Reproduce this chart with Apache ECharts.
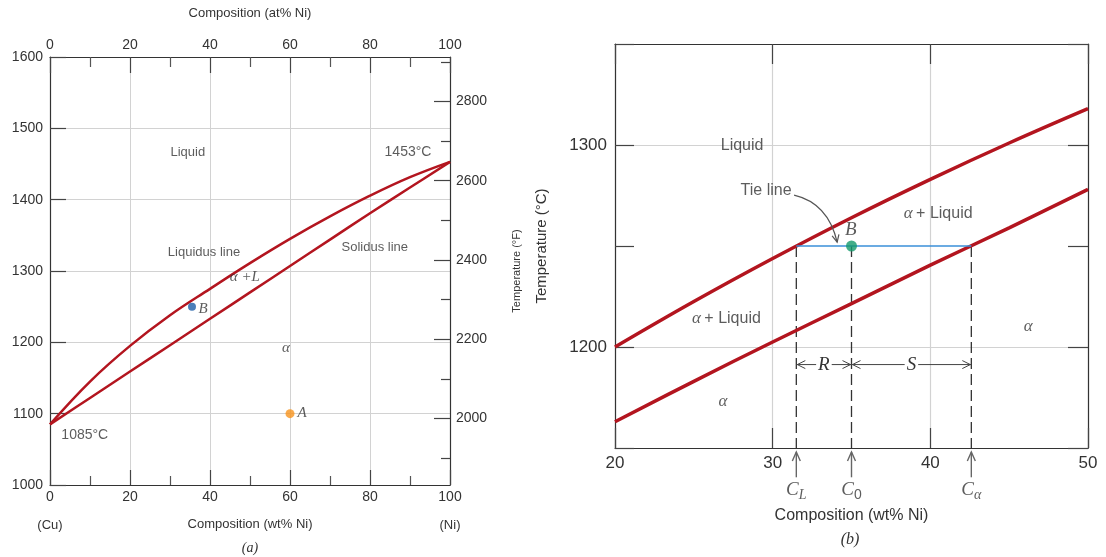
<!DOCTYPE html>
<html>
<head>
<meta charset="utf-8">
<script src="https://cdn.jsdelivr.net/npm/echarts@6.0.0/dist/echarts.min.js"></script>
<style>
html, body { margin: 0; padding: 0; background: #fff; }
#chart { width: 1106px; height: 557px; }
</style>
</head>
<body>
<div id="chart"></div>
<script>
// ---- panel (a): whole Cu-Ni diagram ----
var liquidusA = [[0,1085],[10,1145],[20,1195],[30,1238],[40,1275],[50,1311],[60,1345],[70,1376.5],[80,1405.5],[90,1431.5],[100,1453]];
var solidusA = [[0,1085],[10,1122],[20,1159],[30,1196],[40,1233],[50,1270],[60,1307],[70,1344],[80,1381],[90,1417],[100,1453]];
var pointA = [60, 1100];
var pointBa = [35.5, 1250];
var fMajor = [2000, 2200, 2400, 2600, 2800];
var fMinor = [1900, 2100, 2300, 2500, 2700, 2900];
var labelsA = [
	[34.45, 1466, '{s|Liquid}'],
	[89.5, 1466, '{t|1453°C}'],
	[38.5, 1326.5, '{s|Liquidus line}'],
	[81.2, 1333.5, '{s|Solidus line}'],
	[48.7, 1292, '{g|α +L}'],
	[59, 1191.6, '{g|α}'],
	[38.3, 1246.6, '{g|B}'],
	[63, 1100.9, '{g|A}'],
	[8.7, 1069.8, '{t|1085°C}']
];

// ---- panel (b): zoom around the tie line at 1250 C ----
var liquidusB = [[20,1200],[25,1222.5],[30,1243.8],[35,1264],[40,1283],[45,1301],[50,1318]];
var solidusB = [[20,1163],[25,1183],[30,1202.5],[35,1221.5],[40,1240.5],[45,1259],[50,1278]];
var tieT = 1250;
var cL = 31.5, c0 = 35, cAlpha = 42.6;
var tieLine = [[cL, tieT], [cAlpha, tieT]];
var pointBb = [c0, tieT];
var dashLines = [[cL, tieT, 1150], [c0, tieT, 1150], [cAlpha, tieT, 1150]];
var upArrows = [[cL, 1135.5, 1148], [c0, 1135.5, 1148], [cAlpha, 1135.5, 1148]];
var dimArrows = [[cL, c0, 1191.3, 'R'], [c0, cAlpha, 1191.3, 'S']];
var tieCurve = [[31.36, 1275.2, 33.52, 1271.2, 34.09, 1251.9]];
var labelsB = [
	[28.06, 1299.5, '{s|Liquid}'],
	[29.58, 1277.2, '{s|Tie line}'],
	[34.96, 1257.9, '{b|B}'],
	[40.5, 1266.1, '{g|α} {s|+ Liquid}'],
	[27.07, 1214.1, '{g|α} {s|+ Liquid}'],
	[46.2, 1210, '{g|α}'],
	[26.85, 1172.9, '{g|α}']
];
var cLabels = [
	[cL, 1129, '{c|C}{sub|L}'],
	[c0, 1129, '{c|C}{subn|0}'],
	[cAlpha, 1129, '{c|C}{sub|α}']
];

var SANS = '"Liberation Sans", Arial, sans-serif';
var SERIF = '"Liberation Serif", "Times New Roman", serif';
var red = '#b3151f';
var axisCol = '#333';
var gridCol = '#d2d2d2';

var myChart = echarts.init(document.getElementById('chart'));

function plain(v) { return String(v); }

function renderDashed(params, api) {
	var p1 = api.coord([api.value(0), api.value(1)]);
	var p2 = api.coord([api.value(0), api.value(2)]);
	return {
		type: 'line',
		shape: { x1: p1[0], y1: p1[1], x2: p2[0], y2: p2[1] },
		style: { stroke: '#333', lineWidth: 1.3, lineDash: [11, 5] }
	};
}

function renderUpArrow(params, api) {
	var p1 = api.coord([api.value(0), api.value(1)]);
	var p2 = api.coord([api.value(0), api.value(2)]);
	var x = p2[0], y = p2[1];
	return {
		type: 'group',
		children: [
			{ type: 'line', shape: { x1: p1[0], y1: p1[1], x2: x, y2: y }, style: { stroke: '#666', lineWidth: 1.4 } },
			{ type: 'polyline', shape: { points: [[x - 4, y + 9], [x, y], [x + 4, y + 9]] }, style: { stroke: '#666', fill: 'none', lineWidth: 1.4 } }
		]
	};
}

function renderDim(params, api) {
	var d = dimArrows[params.dataIndex];
	var a = api.coord([d[0], d[2]]);
	var b = api.coord([d[1], d[2]]);
	var y = a[1];
	var col = '#444';
	return {
		type: 'group',
		children: [
			{ type: 'line', shape: { x1: a[0], y1: y, x2: b[0], y2: y }, style: { stroke: col, lineWidth: 1 } },
			{ type: 'polyline', shape: { points: [[a[0] + 9, y - 4], [a[0] + 1, y], [a[0] + 9, y + 4]] }, style: { stroke: col, fill: 'none', lineWidth: 1 } },
			{ type: 'polyline', shape: { points: [[b[0] - 9, y - 4], [b[0] - 1, y], [b[0] - 9, y + 4]] }, style: { stroke: col, fill: 'none', lineWidth: 1 } },
			{ type: 'text', x: (a[0] + b[0]) / 2, y: y, style: { text: d[3], fontFamily: SERIF, fontStyle: 'italic', fontSize: 19, fill: '#333', align: 'center', verticalAlign: 'middle', backgroundColor: '#fff', padding: [0, 2] } }
		]
	};
}

function renderCurve(params, api) {
	var d = tieCurve[params.dataIndex];
	var s = api.coord([d[0], d[1]]);
	var c = api.coord([d[2], d[3]]);
	var e = api.coord([d[4], d[5]]);
	var ang = Math.atan2(e[1] - c[1], e[0] - c[0]);
	var L = 8, w = 0.45;
	var h1 = [e[0] - L * Math.cos(ang - w), e[1] - L * Math.sin(ang - w)];
	var h2 = [e[0] - L * Math.cos(ang + w), e[1] - L * Math.sin(ang + w)];
	return {
		type: 'group',
		children: [
			{ type: 'bezierCurve', shape: { x1: s[0], y1: s[1], x2: e[0], y2: e[1], cpx1: c[0], cpy1: c[1] }, style: { stroke: '#555', fill: 'none', lineWidth: 1.2 } },
			{ type: 'polyline', shape: { points: [h1, e, h2] }, style: { stroke: '#555', fill: 'none', lineWidth: 1.2 } }
		]
	};
}

var richA = {
	s: { fontFamily: SANS, fontSize: 13, color: '#333' },
	t: { fontFamily: SANS, fontSize: 14, color: '#333' },
	g: { fontFamily: SERIF, fontStyle: 'italic', fontSize: 15, color: '#333' }
};
var richB = {
	s: { fontFamily: SANS, fontSize: 16, color: '#333' },
	g: { fontFamily: SERIF, fontStyle: 'italic', fontSize: 17, color: '#333' },
	b: { fontFamily: SERIF, fontStyle: 'italic', fontSize: 19, color: '#333' },
	c: { fontFamily: SERIF, fontStyle: 'italic', fontSize: 19, color: '#333', lineHeight: 24, verticalAlign: 'middle' },
	sub: { fontFamily: SERIF, fontStyle: 'italic', fontSize: 14, color: '#333', lineHeight: 24, verticalAlign: 'bottom' },
	subn: { fontFamily: SANS, fontSize: 14, color: '#333', lineHeight: 24, verticalAlign: 'bottom' }
};

function tickStyle(len) {
	return { show: true, inside: true, length: len, lineStyle: { color: '#444', width: 1.2 } };
}
var lineStyleAxis = { onZero: false, lineStyle: { color: axisCol, width: 1.2 } };

var option = {
	animation: false,
	textStyle: { fontFamily: SANS },
	grid: [
		{ left: 50, top: 57, width: 400, height: 428 },
		{ left: 615, top: 44, width: 473, height: 404 }
	],
	xAxis: [
		{
			gridIndex: 0, type: 'value', position: 'bottom', min: 0, max: 100, interval: 20,
			axisLine: lineStyleAxis, axisTick: tickStyle(15),
			minorTick: { show: true, splitNumber: 2, length: 9, lineStyle: { color: '#555', width: 1.2 } },
			splitLine: { show: true, lineStyle: { color: gridCol, width: 1 } },
			axisLabel: { margin: 5, fontSize: 14, color: '#333', formatter: plain },
			name: 'Composition (wt% Ni)', nameLocation: 'middle', nameGap: 33,
			nameTextStyle: { fontSize: 13, color: '#333' }
		},
		{
			gridIndex: 0, type: 'value', position: 'top', min: 0, max: 100, interval: 20,
			axisLine: lineStyleAxis, axisTick: tickStyle(16),
			minorTick: { show: true, splitNumber: 2, length: 10, lineStyle: { color: '#555', width: 1.2 } },
			splitLine: { show: false },
			axisLabel: { margin: 5, fontSize: 14, color: '#333', formatter: plain },
			name: 'Composition (at% Ni)', nameLocation: 'middle', nameGap: 37,
			nameTextStyle: { fontSize: 13, color: '#333' }
		},
		{
			gridIndex: 1, type: 'value', position: 'bottom', min: 20, max: 50, interval: 10,
			axisLine: lineStyleAxis, axisTick: tickStyle(20),
			splitLine: { show: true, lineStyle: { color: gridCol, width: 1.2 } },
			axisLabel: { margin: 7, fontSize: 17, color: '#333', formatter: plain },
			name: 'Composition (wt% Ni)', nameLocation: 'middle', nameGap: 60,
			nameTextStyle: { fontSize: 16, color: '#333' }
		},
		{
			gridIndex: 1, type: 'value', position: 'top', min: 20, max: 50, interval: 10,
			axisLine: lineStyleAxis, axisTick: tickStyle(20),
			splitLine: { show: false }, axisLabel: { show: false }
		}
	],
	yAxis: [
		{
			gridIndex: 0, type: 'value', position: 'left', min: 1000, max: 1600, interval: 100,
			axisLine: lineStyleAxis, axisTick: tickStyle(16),
			splitLine: { show: true, lineStyle: { color: gridCol, width: 1 } },
			axisLabel: { margin: 7, fontSize: 14, color: '#333', formatter: plain }
		},
		{
			gridIndex: 0, type: 'value', position: 'right', min: 1832, max: 2912,
			axisLine: lineStyleAxis,
			axisTick: { show: true, inside: true, length: 16, customValues: fMajor, lineStyle: { color: '#444', width: 1.2 } },
			axisLabel: { show: true, margin: 6, fontSize: 14, color: '#333', customValues: fMajor, formatter: plain },
			splitLine: { show: false },
			name: 'Temperature (°F)', nameLocation: 'middle', nameGap: 61,
			nameTextStyle: { fontSize: 11, color: '#333' }
		},
		{
			gridIndex: 0, type: 'value', position: 'right', min: 1832, max: 2912,
			axisLine: { show: false, onZero: false },
			axisTick: { show: true, inside: true, length: 9, customValues: fMinor, lineStyle: { color: '#444', width: 1.2 } },
			axisLabel: { show: false },
			splitLine: { show: false }
		},
		{
			gridIndex: 1, type: 'value', position: 'left', min: 1150, max: 1350, interval: 50,
			axisLine: lineStyleAxis, axisTick: tickStyle(19),
			splitLine: { show: true, lineStyle: { color: ['rgba(0,0,0,0)', gridCol], width: 1.2 } },
			axisLabel: {
				margin: 8, fontSize: 17, color: '#333',
				formatter: function (v) { return v % 100 === 0 ? String(v) : ''; }
			},
			name: 'Temperature (°C)', nameLocation: 'middle', nameGap: 66,
			nameTextStyle: { fontSize: 15, color: '#333' }
		},
		{
			gridIndex: 1, type: 'value', position: 'right', min: 1150, max: 1350, interval: 50,
			axisLine: lineStyleAxis, axisTick: tickStyle(20),
			splitLine: { show: false }, axisLabel: { show: false }
		}
	],
	series: [
		{
			name: 'liquidusA', type: 'line', xAxisIndex: 0, yAxisIndex: 0, data: liquidusA,
			smooth: 0.4, showSymbol: false, lineStyle: { color: red, width: 2.5 }, z: 3
		},
		{
			name: 'solidusA', type: 'line', xAxisIndex: 0, yAxisIndex: 0, data: solidusA,
			smooth: 0.4, showSymbol: false, lineStyle: { color: red, width: 2.5 }, z: 3
		},
		{
			name: 'A', type: 'scatter', xAxisIndex: 0, yAxisIndex: 0, data: [pointA],
			symbolSize: 9, itemStyle: { color: '#f7941d' }, z: 4
		},
		{
			name: 'Ba', type: 'scatter', xAxisIndex: 0, yAxisIndex: 0, data: [pointBa],
			symbolSize: 8, itemStyle: { color: '#1d5ea8' }, z: 4
		},
		{
			name: 'labelsA', type: 'scatter', xAxisIndex: 0, yAxisIndex: 0, data: labelsA,
			symbolSize: 0, silent: true, z: 5,
			label: { show: true, position: 'inside', formatter: function (p) { return p.data[2]; }, rich: richA }
		},
		{
			name: 'liquidusB', type: 'line', xAxisIndex: 2, yAxisIndex: 3, data: liquidusB,
			smooth: 0.4, showSymbol: false, lineStyle: { color: red, width: 3.5 }, z: 3
		},
		{
			name: 'solidusB', type: 'line', xAxisIndex: 2, yAxisIndex: 3, data: solidusB,
			smooth: 0.4, showSymbol: false, lineStyle: { color: red, width: 3.5 }, z: 3
		},
		{
			name: 'dashes', type: 'custom', xAxisIndex: 2, yAxisIndex: 3, data: dashLines,
			renderItem: renderDashed, z: 2
		},
		{
			name: 'tie', type: 'line', xAxisIndex: 2, yAxisIndex: 3, data: tieLine,
			showSymbol: false, lineStyle: { color: '#3a8fd8', width: 1.6 }, z: 4
		},
		{
			name: 'Bb', type: 'scatter', xAxisIndex: 2, yAxisIndex: 3, data: [pointBb],
			symbolSize: 11, itemStyle: { color: '#149a6d' }, z: 6
		},
		{
			name: 'dims', type: 'custom', xAxisIndex: 2, yAxisIndex: 3, data: dimArrows.map(function (d) { return [d[0], d[2]]; }),
			renderItem: renderDim, z: 5
		},
		{
			name: 'tieArrow', type: 'custom', xAxisIndex: 2, yAxisIndex: 3, data: tieCurve.map(function (d) { return [d[0], d[1]]; }),
			renderItem: renderCurve, z: 5
		},
		{
			name: 'upArrows', type: 'custom', xAxisIndex: 2, yAxisIndex: 3, data: upArrows,
			renderItem: renderUpArrow, clip: false, z: 5
		},
		{
			name: 'labelsB', type: 'scatter', xAxisIndex: 2, yAxisIndex: 3, data: labelsB,
			symbolSize: 0, silent: true, z: 5,
			label: { show: true, position: 'inside', formatter: function (p) { return p.data[2]; }, rich: richB }
		},
		{
			name: 'cLabels', type: 'scatter', xAxisIndex: 2, yAxisIndex: 3, data: cLabels,
			symbolSize: 0, silent: true, clip: false, z: 5,
			label: { show: true, position: 'inside', formatter: function (p) { return p.data[2]; }, rich: richB }
		}
	],
	graphic: [
		{ type: 'text', x: 50, y: 525, style: { text: '(Cu)', fontFamily: SANS, fontSize: 13, fill: '#333', align: 'center', verticalAlign: 'middle' } },
		{ type: 'text', x: 450, y: 525, style: { text: '(Ni)', fontFamily: SANS, fontSize: 13, fill: '#333', align: 'center', verticalAlign: 'middle' } },
		{ type: 'text', x: 250, y: 548, style: { text: '(a)', fontFamily: SERIF, fontStyle: 'italic', fontSize: 14, fill: '#333', align: 'center', verticalAlign: 'middle' } },
		{ type: 'text', x: 850, y: 540, style: { text: '(b)', fontFamily: SERIF, fontStyle: 'italic', fontSize: 16, fill: '#333', align: 'center', verticalAlign: 'middle' } }
	]
};

myChart.setOption(option);
</script>
</body>
</html>
